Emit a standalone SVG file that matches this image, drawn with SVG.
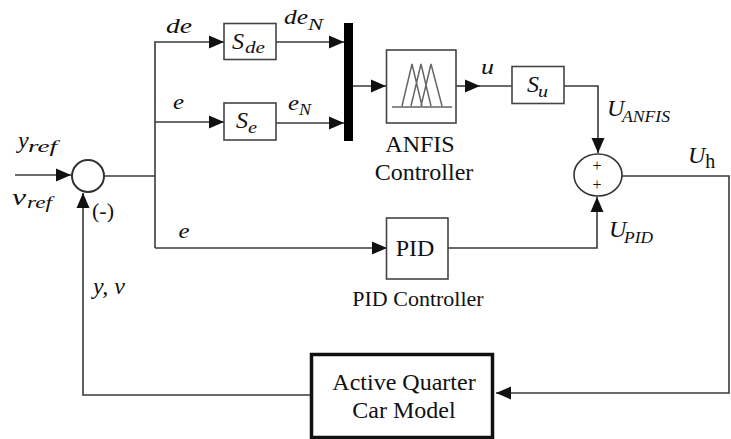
<svg xmlns="http://www.w3.org/2000/svg" width="731" height="439" viewBox="0 0 731 439">
<style>
.l{fill:none;stroke:#3a3a3a;stroke-width:1.6}
.b{fill:#fff;stroke:#444;stroke-width:1.6}
text{font-family:"Liberation Serif",serif;fill:#111}
.m{font-style:italic;font-size:22px}
.c{font-style:italic;font-size:24px}
.s{font-style:italic;font-size:16px}
.t{font-size:24px;text-anchor:middle}
.p{font-size:16px;text-anchor:middle}
</style>
<defs>
<marker id="a" markerUnits="userSpaceOnUse" markerWidth="15" markerHeight="14" refX="15" refY="7" orient="auto"><path d="M0 0.5L15 7L0 13.500Z" fill="#111"/></marker>
</defs>
<rect width="731" height="439" fill="#fff"/>
<g id="connectors">
<path class="l" d="M15 175H71" marker-end="url(#a)"/>
<path class="l" d="M104 176H155"/>
<path class="l" d="M155 248V42H224" marker-end="url(#a)"/>
<path class="l" d="M155 122H224" marker-end="url(#a)"/>
<path class="l" d="M155 248H387" marker-end="url(#a)"/>
<path class="l" d="M276 42H344" marker-end="url(#a)"/>
<path class="l" d="M276 123H344" marker-end="url(#a)"/>
<path class="l" d="M352 86H386" marker-end="url(#a)"/>
<path class="l" d="M456 86H480" marker-end="url(#a)"/>
<path class="l" d="M478 86H512"/>
<path class="l" d="M564 86H598V153" marker-end="url(#a)"/>
<path class="l" d="M448 248H597V197" marker-end="url(#a)"/>
<path class="l" d="M622 176H729V393H496" marker-end="url(#a)"/>
<path class="l" d="M310 395H83V193" marker-end="url(#a)"/>
</g>
<g id="sum1"><circle cx="88" cy="176" r="16" fill="#fff" stroke="#333" stroke-width="2"/></g>
<g id="sde"><rect class="b" x="224" y="23.500" width="52" height="36"/>
<text class="c" x="232" y="49">S</text><text class="s" x="245" y="53" textLength="20" lengthAdjust="spacingAndGlyphs">de</text></g>
<g id="se"><rect class="b" x="224" y="103" width="52" height="37"/>
<text class="c" x="236" y="128">S</text><text class="s" x="248" y="133" textLength="9" lengthAdjust="spacingAndGlyphs">e</text></g>
<g id="mux"><rect x="344" y="23" width="9" height="118" fill="#000"/></g>
<g id="anfis"><rect class="b" x="386.500" y="50" width="69.500" height="73"/>
<path d="M392 107H452M402 106L412 64L422 106M411 106L421 64L431 106M421 106L431 64L442 106" fill="none" stroke="#666" stroke-width="1.500"/>
<text class="t" x="420" y="152">ANFIS</text><text class="t" x="424" y="180">Controller</text></g>
<g id="su"><rect class="b" x="512" y="66.500" width="52" height="37"/>
<text class="c" x="527" y="92">S</text><text class="s" x="538" y="97" textLength="10" lengthAdjust="spacingAndGlyphs">u</text></g>
<g id="sum2"><ellipse cx="598" cy="175" rx="24" ry="21" fill="#fff" stroke="#333" stroke-width="1.600"/>
<text class="p" x="597" y="171">+</text><text class="p" x="597" y="190">+</text></g>
<g id="pid"><rect class="b" x="386.500" y="218" width="61.500" height="61"/>
<text class="t" x="415" y="256">PID</text>
<text x="418" y="306" style="font-size:22px;text-anchor:middle">PID Controller</text></g>
<g id="plant"><rect x="311.500" y="354.500" width="181" height="83" fill="#fff" stroke="#111" stroke-width="3.500"/>
<text class="t" x="404" y="390">Active Quarter</text>
<text class="t" x="404" y="418">Car Model</text></g>
<g id="labels">
<text class="m" x="166" y="33" textLength="26" lengthAdjust="spacingAndGlyphs">de</text>
<text class="m" x="284" y="24" textLength="24" lengthAdjust="spacingAndGlyphs">de</text><text class="s" x="308" y="30" textLength="15" lengthAdjust="spacingAndGlyphs">N</text>
<text class="m" x="173" y="109" textLength="11" lengthAdjust="spacingAndGlyphs">e</text>
<text class="m" x="288" y="110" textLength="11" lengthAdjust="spacingAndGlyphs">e</text><text class="s" x="299" y="115" textLength="12" lengthAdjust="spacingAndGlyphs">N</text>
<text class="c" x="18" y="148">y</text><text class="s" x="28" y="152" textLength="29" lengthAdjust="spacingAndGlyphs">ref</text>
<text class="c" x="12" y="205" textLength="14" lengthAdjust="spacingAndGlyphs">v</text><text class="s" x="27" y="208" textLength="25" lengthAdjust="spacingAndGlyphs">ref</text>
<text x="92" y="218" style="font-size:22px">(-)</text>
<text class="m" x="178.500" y="238" textLength="11" lengthAdjust="spacingAndGlyphs">e</text>
<text class="c" x="93" y="294">y, v</text>
<text class="m" x="481" y="74" textLength="13" lengthAdjust="spacingAndGlyphs">u</text>
<text class="c" x="607" y="116">U</text><text class="s" x="622" y="122" textLength="48" lengthAdjust="spacingAndGlyphs">ANFIS</text>
<text class="c" x="609" y="237">U</text><text class="s" x="624" y="243" textLength="29" lengthAdjust="spacingAndGlyphs">PID</text>
<text class="c" x="688" y="163">U<tspan dy="5" style="font-size:20px;font-style:normal">h</tspan></text>
</g>
</svg>
